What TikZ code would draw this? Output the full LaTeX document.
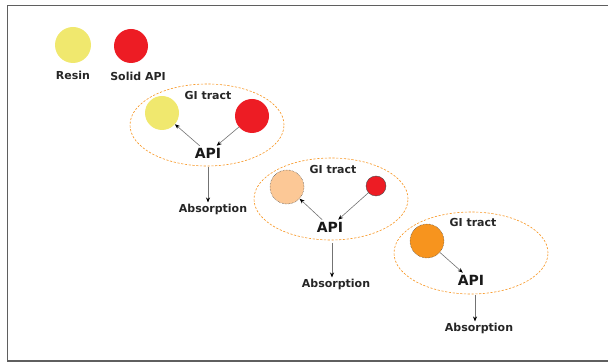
\documentclass[tikz,border=0pt]{standalone}
\usepackage{fontspec}
\setmainfont{DejaVu Sans}
\usetikzlibrary{shapes.geometric,arrows.meta}
\definecolor{resinY}{RGB}{240,232,110}
\definecolor{apiR}{RGB}{237,28,36}
\definecolor{peach}{RGB}{252,200,150}
\definecolor{orng}{RGB}{247,148,30}
\definecolor{framegray}{RGB}{95,95,95}
\tikzset{
  ball/.style={circle,inner sep=0pt,minimum size=#1},
  gi/.style={ellipse,draw=orng,line width=0.6pt,dash pattern=on 2.2pt off 1.6pt,minimum width=154pt,minimum height=82pt,inner sep=0pt},
  lbl/.style={font=\fontsize{11}{12}\selectfont\bfseries,inner sep=1pt,text=black!85},
  apitxt/.style={font=\fontsize{14}{15}\selectfont\bfseries,inner sep=2pt,text=black!90},
  conn/.style={draw=black!55,line width=0.6pt,-{Stealth[length=5pt,width=4pt,color=black]}},
  rim/.style={draw=black!70,line width=0.5pt,densely dotted}
}
\begin{document}
\begin{tikzpicture}[x=1pt,y=-1pt]
\useasboundingbox (0,0) rectangle (608,363);
% frame
\draw[framegray,line width=1.8pt] (620,5.5) -- (7.5,5.5) -- (7.5,361) -- (620,361);
% legend
\node[ball=36pt,fill=resinY] (lr) at (73,45) {};
\node[ball=34pt,fill=apiR] (ls) at (131,46) {};
\node[lbl] (lrt) at (73,75) {Resin};
\node[lbl] (lst) at (138,76) {Solid API};
% stage 1
\node[gi] (e1) at (207,125) {};
\node[lbl] (g1) at (208,95) {GI tract};
\node[ball=34pt,fill=resinY] (y1) at (162,113) {};
\node[ball=34pt,fill=apiR] (r1) at (252,116) {};
\node[apitxt] (a1) at (208,153) {API};
\node[lbl] (b1) at (213,209) {Absorption};
\draw[conn] (a1) -- (y1);
\draw[conn] (r1) -- (a1);
\coordinate (s1) at (208,167);
\draw[conn] (s1) -- (s1 |- b1.north);
% stage 2
\node[gi] (e2) at (331,199) {};
\node[lbl] (g2) at (333,169) {GI tract};
\node[ball=34pt,fill=peach,rim] (p2) at (287,187) {};
\node[ball=20pt,fill=apiR,draw=black!70,line width=0.4pt] (r2) at (376,186) {};
\node[apitxt] (a2) at (330,227) {API};
\node[lbl] (b2) at (336,284) {Absorption};
\draw[conn] (a2) -- (p2);
\draw[conn] (r2) -- (a2);
\coordinate (s2) at (332,243);
\draw[conn] (s2) -- (s2 |- b2.north);
% stage 3
\node[gi] (e3) at (471,253) {};
\node[lbl] (g3) at (473,222) {GI tract};
\node[ball=34pt,fill=orng,rim] (o3) at (427,241) {};
\node[apitxt] (a3) at (471,280) {API};
\node[lbl] (b3) at (479,328) {Absorption};
\draw[conn] (o3) -- (a3);
\coordinate (s3) at (475,295);
\draw[conn] (s3) -- (s3 |- b3.north);
\end{tikzpicture}
\end{document}
